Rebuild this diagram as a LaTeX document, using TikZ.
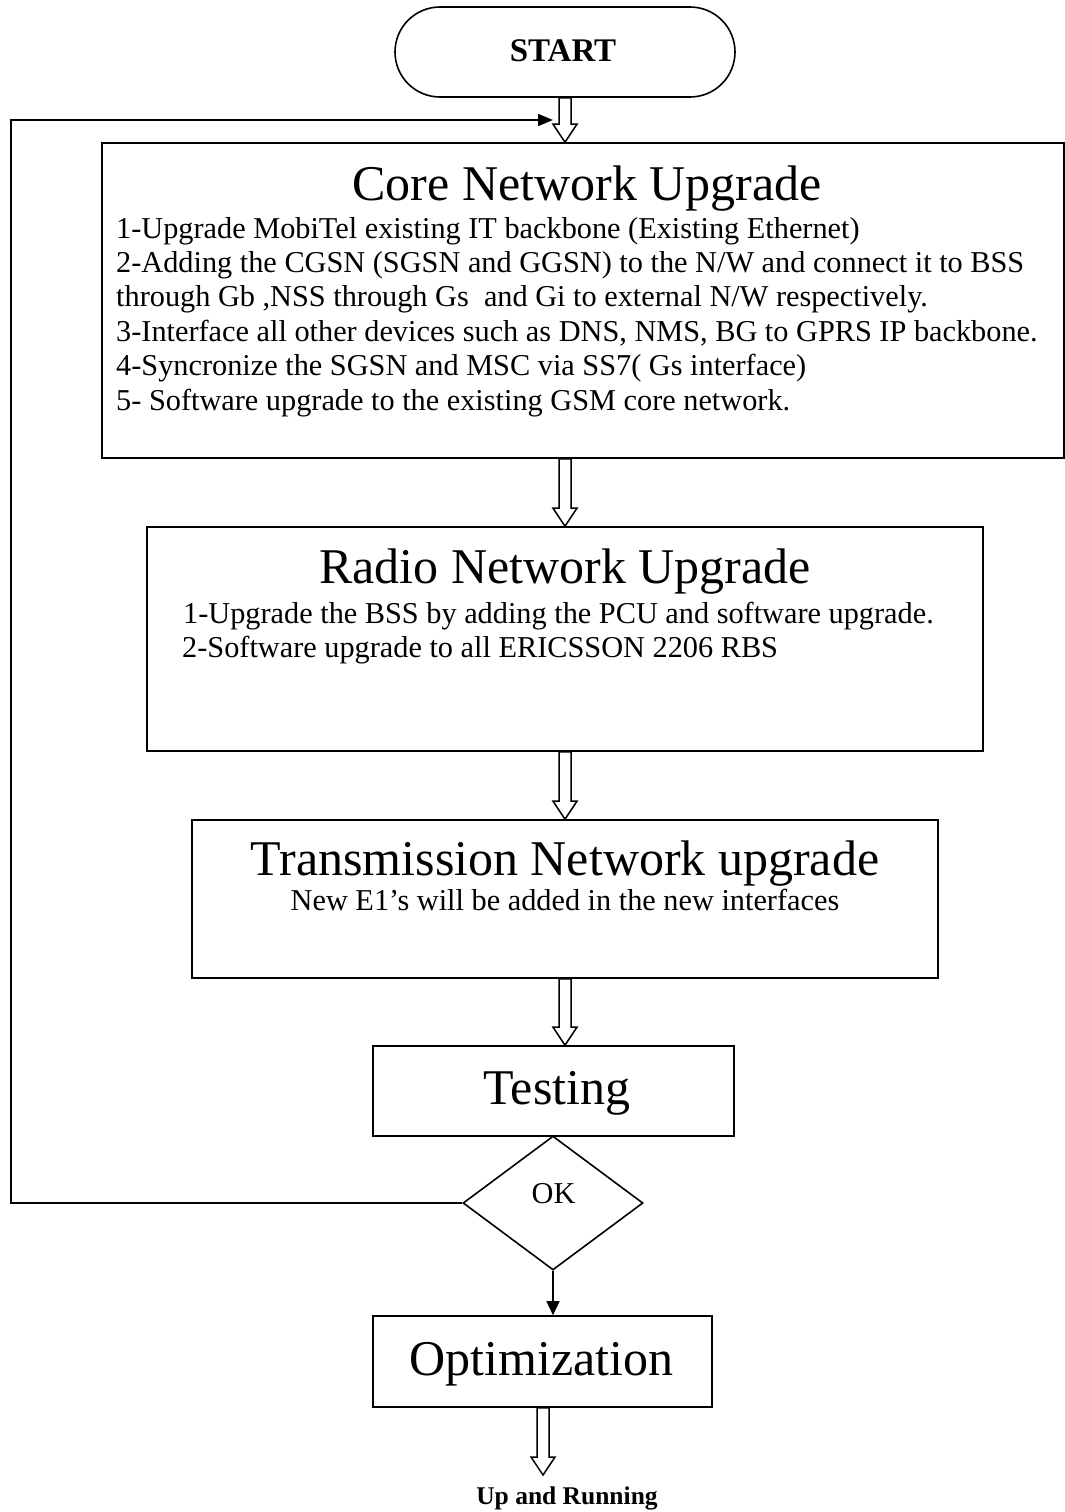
\documentclass[tikz,border=0pt]{standalone}
\usepackage{fontspec}
\setmainfont{Liberation Serif}
\usetikzlibrary{shapes.geometric,arrows.meta,calc}

\tikzset{
  box/.style={draw, line width=1.6pt, fill=white, inner sep=0pt},
  terminal/.style={draw, line width=1.6pt, rounded corners=45pt, inner sep=0pt},
  decision/.style={draw, diamond, line width=1.6pt, inner sep=0pt, fill=white},
  titletext/.style={anchor=base, inner sep=0pt, font=\fontsize{50}{60}\selectfont},
  bodytext/.style={anchor=base west, inner sep=0pt, font=\fontsize{30.3}{34.5}\selectfont},
  centertext/.style={anchor=base, inner sep=0pt, font=\fontsize{30.3}{34.5}\selectfont},
  boldtext/.style={anchor=base, inner sep=0pt, font=\bfseries\fontsize{#1}{#1}\selectfont},
  hollowtip/.style={draw, line width=1.5pt, fill=white, line join=miter},
  flow/.style={line width=1.5pt, -{Triangle[length=15pt,width=12pt]}}
}

% Block arrow with an open head, from a start point down to a tip point
\newcommand\hollowarrow[2]{%
  \draw[hollowtip] let \p1=(#1), \p2=(#2) in
    (\x2-6pt,\y1) -- (\x2-6pt,\y2+18pt) -- (\x2-12pt,\y2+18pt) -- (\x2,\y2)
    -- (\x2+12pt,\y2+18pt) -- (\x2+6pt,\y2+18pt) -- (\x2+6pt,\y1) -- cycle;}

\begin{document}
\begin{tikzpicture}[x=1pt,y=-1pt]
\useasboundingbox (0,0) rectangle (1065,1512);

% Start terminal
\node[terminal, minimum width=340pt, minimum height=90pt] (start) at (565,52) {};
\node[boldtext=33] (starttxt) at (563,62) {START};

% Core network block
\node[box, minimum width=962pt, minimum height=315pt] (core) at (583,300.5) {};
\node[titletext] (coretitle) at (587,200) {Core Network Upgrade};
\node[bodytext] (c1) at (116,238)   {1-Upgrade MobiTel existing IT backbone (Existing Ethernet)};
\node[bodytext] (c2) at (116,272.4) {2-Adding the CGSN (SGSN and GGSN) to the N/W and connect it to BSS};
\node[bodytext] (c3) at (116,306.8) {through Gb ,NSS through Gs\ \ and Gi to external N/W respectively.};
\node[bodytext] (c4) at (116,341.2) {3-Interface all other devices such as DNS, NMS, BG to GPRS IP backbone.};
\node[bodytext] (c5) at (116,375.6) {4-Syncronize the SGSN and MSC via SS7( Gs interface)};
\node[bodytext] (c6) at (116,410)   {5- Software upgrade to the existing GSM core network.};

% Radio network block
\node[box, minimum width=836pt, minimum height=224pt] (radio) at (565,639) {};
\node[titletext] (radiotitle) at (565,583) {Radio Network Upgrade};
\node[bodytext] (r1) at (183,623) {1-Upgrade the BSS by adding the PCU and software upgrade.};
\node[bodytext] (r2) at (182,657) {2-Software upgrade to all ERICSSON 2206 RBS};

% Transmission network block
\node[box, minimum width=746pt, minimum height=158pt] (trans) at (565,899) {};
\node[titletext] (transtitle) at (565,875) {Transmission Network upgrade};
\node[centertext] (t1) at (565,910) {New E1’s will be added in the new interfaces};

% Testing
\node[box, minimum width=361pt, minimum height=90pt] (test) at (553.5,1091) {};
\node[titletext] (testtitle) at (557,1104) {Testing};

% Decision
\node[decision, minimum width=180pt, minimum height=134pt] (dec) at (553,1203) {};
\node[centertext] (ok) at (553.5,1203) {OK};

% Optimization
\node[box, minimum width=339pt, minimum height=91pt] (opt) at (542.5,1361.5) {};
\node[titletext] (opttitle) at (541.5,1375) {Optimization};

% Final state
\node[boldtext=25.5] (run) at (567,1504) {Up and Running};
\coordinate (runtip) at (543,1475);

% Block arrows between stages
\hollowarrow{start.south}{start.south |- core.north}
\hollowarrow{radio.north |- core.south}{radio.north}
\hollowarrow{radio.south}{trans.north}
\hollowarrow{trans.south}{trans.south |- test.north}
\hollowarrow{opt.south}{runtip}

% Loop back when the test fails
\coordinate (back) at (553,120);
\draw[flow] (dec.west) -- ++(-451,0) |- (back);

% Test passed
\draw[line width=1.5pt, -{Triangle[length=14pt,width=13pt]}] (dec.south) -- (dec.south |- opt.north);
\end{tikzpicture}
\end{document}
